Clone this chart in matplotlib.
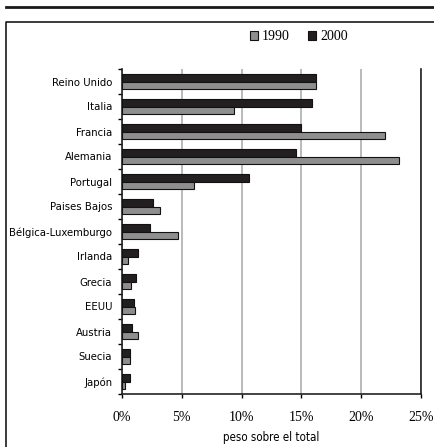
import matplotlib
matplotlib.use("Agg")
import matplotlib.pyplot as plt
import numpy as np
from matplotlib.patches import Rectangle
from matplotlib.lines import Line2D

# datos (peso sobre el total)
paises = ['Reino Unido', 'Italia', 'Francia', 'Alemania', 'Portugal', 'Paises Bajos',
          'Bélgica-Luxemburgo', 'Irlanda', 'Grecia', 'EEUU', 'Austria', 'Suecia', 'Japón']
v1990 = [16.25, 9.4, 22.0, 23.2, 6.0, 3.2, 4.7, 0.5, 0.75, 1.1, 1.3, 0.7, 0.25]
v2000 = [16.2, 15.9, 15.0, 14.55, 10.6, 2.6, 2.3, 1.3, 1.2, 1.0, 0.8, 0.7, 0.7]
xticks = [0, 5, 10, 15, 20, 25]
xlabels = ['0%', '5%', '10%', '15%', '20%', '25%']

sans = ['DejaVu Sans']
serif = ['Liberation Serif', 'DejaVu Serif']

fig = plt.figure(figsize=(4.35, 4.47), dpi=100)
ax = fig.add_axes([122/435, 1-394/447, 299/435, 325/447])

y = np.arange(len(paises))
h = 0.31
ax.barh(y - h/2, v2000, height=h, color='#231f20', edgecolor='#111111', linewidth=0.8, label='2000', zorder=3)
ax.barh(y + h/2, v1990, height=h, color='#8e8e8e', edgecolor='#111111', linewidth=0.8, label='1990', zorder=3)

ax.set_xlim(0, 25)
ax.set_ylim(len(paises) - 0.5, -0.5)
ax.set_xticks(xticks)
ax.set_xticklabels(xlabels, fontfamily=serif, fontsize=10)
ax.xaxis.grid(True, color='#b4b4b4', linewidth=1.3, zorder=0)
ax.set_axisbelow(True)

ax.set_yticks(np.arange(len(paises) + 1) - 0.5)
ax.set_yticklabels([])
ax.set_yticks(y, minor=True)
ax.set_yticklabels(paises, minor=True, fontfamily=sans, fontstretch='condensed', fontsize=8.1)
ax.tick_params(axis='y', which='minor', length=0, pad=7)
ax.tick_params(axis='y', which='major', length=3, width=1)
ax.tick_params(axis='x', length=3, width=1, pad=9)

ax.spines['top'].set_visible(False)
for s in ['left', 'bottom', 'right']:
    ax.spines[s].set_linewidth(1.2)
    ax.spines[s].set_color('#222222')

ax.set_xlabel('peso sobre el total', fontfamily=sans, fontstretch='condensed', fontsize=8.3, labelpad=5)

# leyenda
handles = [Rectangle((0, 0), 1, 1, facecolor='#8e8e8e', edgecolor='#111111', linewidth=0.8),
           Rectangle((0, 0), 1, 1, facecolor='#231f20', edgecolor='#111111', linewidth=0.8)]
fig.legend(handles, ['1990', '2000'], loc='center', bbox_to_anchor=(299/435, 1-37/447),
           ncol=2, frameon=False, handlelength=0.6, handleheight=0.6, handletextpad=0.3,
           columnspacing=1.3, prop={'family': serif, 'size': 10})

# marco y linea superior
fig.add_artist(Line2D([6/435, 1], [1-7/447, 1-7/447], color='#1a1a1a', linewidth=2))
fig.add_artist(Line2D([6.5/435, 6.5/435, 1], [0, 1-21.5/447, 1-21.5/447], color='#1a1a1a', linewidth=1.2))

fig.savefig('out.png', dpi=100)
